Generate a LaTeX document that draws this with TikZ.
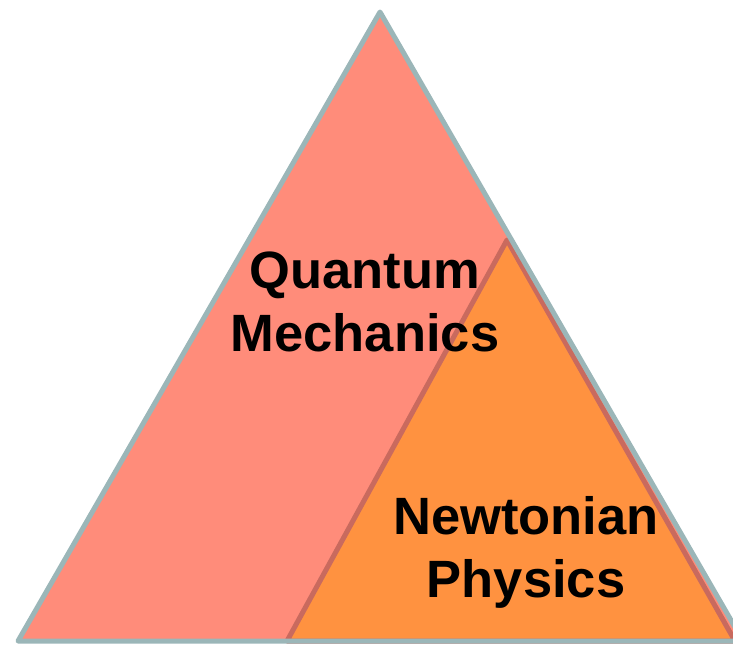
\documentclass[tikz,border=0pt]{standalone}
\usepackage{fontspec}
\setmainfont{Liberation Sans}
\usetikzlibrary{positioning}
\definecolor{salmon}{HTML}{FF8C7A}
\definecolor{orng}{HTML}{FF9240}
\definecolor{edgegray}{HTML}{9BB6B8}
\definecolor{edgered}{HTML}{C96A5E}

\begin{document}
\begin{tikzpicture}[x=1pt,y=-1pt,line join=round,
 lbl/.style={align=center,font=\fontsize{52.5}{63}\selectfont\bfseries}]
 \useasboundingbox(0,0)rectangle(733,645);
 \clip(0,0)rectangle(733,645);
 \fill[salmon](380,12)--(18,641)--(743,641)--cycle;
 \draw[edgered,line width=5,fill=orng](507,240)--(287,641)--(735,641)--cycle;
 \draw[edgegray,line width=5](380,12)--(18,641)--(743,641)--cycle;
 \node[lbl](qm)at(365,302){Quantum\\Mechanics};
 \node[lbl](np)at(526,552){Newtonian\\Physics};
\end{tikzpicture}
\end{document}
